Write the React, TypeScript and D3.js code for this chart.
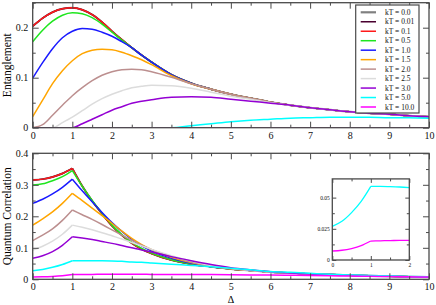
import React, { useEffect, useRef } from 'react';
import * as d3 from 'd3';

// Delta grid shared by every series
const deltas = [0, 0.25, 0.5, 0.75, 1, 1.25, 1.5, 1.75, 2, 2.25, 2.5, 2.75, 3, 3.5, 4, 4.5, 5, 5.5, 6, 6.5, 7, 7.5, 8, 8.5, 9, 9.5, 10];

const kTLabels = ['kT = 0.0', 'kT = 0.01', 'kT = 0.1', 'kT = 0.5', 'kT = 1.0', 'kT = 1.5', 'kT = 2.0', 'kT = 2.5', 'kT = 3.0', 'kT = 5.0', 'kT = 10.0'];
const kTColors = ['#808080', '#4a0030', '#ff1a1a', '#1ee61e', '#1a1aff', '#ffa500', '#bc8f8f', '#dcdcdc', '#9400d3', '#00ffff', '#ff00ff'];

// Entanglement (top panel)
const ent00 = [0.203, 0.219, 0.231, 0.238, 0.240, 0.236, 0.226, 0.211, 0.193, 0.176, 0.160, 0.145, 0.131, 0.106, 0.089, 0.077, 0.067, 0.059, 0.051, 0.045, 0.040, 0.036, 0.032, 0.029, 0.027, 0.024, 0.022];
const ent001 = [0.203, 0.219, 0.231, 0.238, 0.240, 0.236, 0.226, 0.211, 0.193, 0.176, 0.160, 0.145, 0.131, 0.106, 0.089, 0.077, 0.067, 0.059, 0.051, 0.045, 0.040, 0.036, 0.032, 0.029, 0.027, 0.024, 0.022];
const ent01 = [0.203, 0.219, 0.231, 0.238, 0.240, 0.236, 0.226, 0.211, 0.193, 0.176, 0.160, 0.145, 0.131, 0.106, 0.089, 0.077, 0.067, 0.059, 0.051, 0.045, 0.040, 0.036, 0.032, 0.029, 0.027, 0.024, 0.022];
const ent05 = [0.172, 0.195, 0.213, 0.225, 0.230, 0.228, 0.220, 0.207, 0.191, 0.175, 0.160, 0.145, 0.131, 0.106, 0.089, 0.077, 0.067, 0.059, 0.051, 0.045, 0.040, 0.036, 0.032, 0.029, 0.027, 0.024, 0.022];
const ent10 = [0.099, 0.130, 0.158, 0.180, 0.193, 0.1985, 0.197, 0.191, 0.183, 0.172, 0.160, 0.145, 0.131, 0.106, 0.089, 0.077, 0.067, 0.059, 0.051, 0.045, 0.040, 0.036, 0.032, 0.029, 0.027, 0.024, 0.022];
const ent15 = [0.022, 0.055, 0.088, 0.114, 0.134, 0.148, 0.155, 0.157, 0.156, 0.151, 0.144, 0.136, 0.126, 0.104, 0.088, 0.077, 0.067, 0.059, 0.051, 0.045, 0.040, 0.036, 0.032, 0.029, 0.027, 0.024, 0.022];
const ent20 = [0, 0.006, 0.025, 0.045, 0.064, 0.080, 0.094, 0.105, 0.112, 0.116, 0.117, 0.116, 0.112, 0.101, 0.088, 0.077, 0.067, 0.059, 0.051, 0.045, 0.040, 0.036, 0.032, 0.029, 0.027, 0.024, 0.022];
const ent25 = [0, 0, 0, 0.010, 0.021, 0.034, 0.047, 0.058, 0.067, 0.074, 0.080, 0.083, 0.085, 0.084, 0.079, 0.071, 0.063, 0.057, 0.050, 0.045, 0.040, 0.036, 0.032, 0.029, 0.027, 0.024, 0.022];
const ent30 = [0, 0, 0, 0, 0, 0.008, 0.017, 0.026, 0.035, 0.042, 0.049, 0.053, 0.056, 0.061, 0.062, 0.061, 0.057, 0.053, 0.049, 0.045, 0.040, 0.036, 0.032, 0.029, 0.027, 0.024, 0.022];
const ent50 = [0, 0, 0, 0, 0, 0, 0, 0, 0, 0, 0, 0, 0, 0, 0.004, 0.008, 0.012, 0.015, 0.017, 0.019, 0.020, 0.021, 0.021, 0.021, 0.020, 0.020, 0.019];
const ent100 = [0, 0, 0, 0, 0, 0, 0, 0, 0, 0, 0, 0, 0, 0, 0, 0, 0, 0, 0, 0, 0, 0, 0, 0, 0, 0, 0];

// Quantum correlation (bottom panel)
const qc00 = [0.315, 0.318, 0.325, 0.336, 0.352, 0.296, 0.249, 0.208, 0.170, 0.140, 0.115, 0.096, 0.082, 0.061, 0.048, 0.040, 0.033, 0.028, 0.023, 0.020, 0.017, 0.015, 0.013, 0.011, 0.010, 0.008, 0.007];
const qc001 = [0.315, 0.318, 0.325, 0.336, 0.352, 0.296, 0.249, 0.208, 0.170, 0.140, 0.115, 0.096, 0.082, 0.061, 0.048, 0.040, 0.033, 0.028, 0.023, 0.020, 0.017, 0.015, 0.013, 0.011, 0.010, 0.008, 0.007];
const qc01 = [0.315, 0.318, 0.325, 0.336, 0.352, 0.296, 0.249, 0.208, 0.170, 0.140, 0.115, 0.096, 0.082, 0.061, 0.048, 0.040, 0.033, 0.028, 0.023, 0.020, 0.017, 0.015, 0.013, 0.011, 0.010, 0.008, 0.007];
const qc05 = [0.299, 0.303, 0.313, 0.326, 0.345, 0.295, 0.250, 0.210, 0.172, 0.142, 0.117, 0.098, 0.083, 0.062, 0.049, 0.040, 0.033, 0.028, 0.023, 0.020, 0.017, 0.015, 0.013, 0.011, 0.010, 0.008, 0.007];
const qc10 = [0.241, 0.254, 0.271, 0.292, 0.318, 0.281, 0.246, 0.212, 0.180, 0.152, 0.127, 0.106, 0.090, 0.067, 0.051, 0.040, 0.033, 0.028, 0.023, 0.020, 0.017, 0.015, 0.013, 0.011, 0.010, 0.008, 0.007];
const qc15 = [0.172, 0.192, 0.214, 0.241, 0.273, 0.250, 0.226, 0.202, 0.178, 0.153, 0.130, 0.110, 0.094, 0.070, 0.053, 0.041, 0.033, 0.028, 0.023, 0.020, 0.017, 0.015, 0.013, 0.011, 0.010, 0.008, 0.007];
const qc20 = [0.123, 0.140, 0.160, 0.187, 0.220, 0.205, 0.190, 0.174, 0.157, 0.140, 0.124, 0.108, 0.094, 0.072, 0.055, 0.042, 0.034, 0.028, 0.023, 0.020, 0.017, 0.015, 0.013, 0.011, 0.010, 0.008, 0.007];
const qc25 = [0.093, 0.105, 0.121, 0.143, 0.172, 0.165, 0.157, 0.148, 0.138, 0.128, 0.117, 0.106, 0.095, 0.075, 0.058, 0.044, 0.035, 0.028, 0.023, 0.020, 0.017, 0.015, 0.013, 0.011, 0.010, 0.008, 0.007];
const qc30 = [0.067, 0.075, 0.088, 0.108, 0.135, 0.131, 0.126, 0.120, 0.114, 0.107, 0.100, 0.093, 0.087, 0.072, 0.059, 0.047, 0.037, 0.030, 0.024, 0.020, 0.017, 0.015, 0.013, 0.011, 0.010, 0.008, 0.007];
const qc50 = [0.027, 0.031, 0.038, 0.047, 0.059, 0.059, 0.0588, 0.0585, 0.058, 0.057, 0.055, 0.054, 0.052, 0.048, 0.044, 0.040, 0.035, 0.030, 0.025, 0.022, 0.019, 0.016, 0.014, 0.012, 0.011, 0.009, 0.008];
const qc100 = [0.0072, 0.0078, 0.0092, 0.0115, 0.0152, 0.0154, 0.0156, 0.0157, 0.0158, 0.0158, 0.0158, 0.0157, 0.0156, 0.0154, 0.0152, 0.0149, 0.0145, 0.0140, 0.0134, 0.0127, 0.0120, 0.0112, 0.0103, 0.0095, 0.0086, 0.0078, 0.0070];

const entSeries = [ent00, ent001, ent01, ent05, ent10, ent15, ent20, ent25, ent30, ent50, ent100];
const qcSeries = [qc00, qc001, qc01, qc05, qc10, qc15, qc20, qc25, qc30, qc50, qc100];

const xTicks = [0, 1, 2, 3, 4, 5, 6, 7, 8, 9, 10];
const entTicks = [0, 0.1, 0.2];
const qcTicks = [0, 0.1, 0.2, 0.3, 0.4];
const insetXTicks = [0, 1, 2];
const insetYTicks = [0, 0.025, 0.05];

const FRAME = '#4a4a4a';
const SERIF = '"Liberation Serif", "DejaVu Serif", serif';

export default function App() {
  const ref = useRef<SVGSVGElement>(null);

  useEffect(() => {
    const svg = d3.select(ref.current);
    svg.selectAll('*').remove();

    const x = d3.scaleLinear().domain([0, 10]).range([32.7, 429]);
    const yTop = d3.scaleLinear().domain([0, 0.25]).range([127.7, 2.7]);
    const yBot = d3.scaleLinear().domain([0, 0.4]).range([279.3, 153.3]);
    const xIn = d3.scaleLinear().domain([0, 2]).range([332.3, 409.3]);
    const yIn = d3.scaleLinear().domain([0, 0.065]).range([260, 178.9]);

    // ticks pointing inward on all four sides
    const axes = (xs, ys, xMaj, xMin, yMaj, yMin, big, small, fs, xPad, yPad) => {
      const [b, t] = ys.range();
      const [l, r] = xs.range();
      const style = (g) => {
        g.select('.domain').remove();
        g.selectAll('line').attr('stroke', FRAME).attr('stroke-width', 1);
        g.attr('font-family', SERIF).attr('font-size', fs).selectAll('text').attr('fill', '#111');
      };
      const fmt = (d) => String(d);
      const none = () => '';
      svg.append('g').attr('transform', `translate(0,${b})`)
        .call(d3.axisBottom(xs).tickValues(xMaj).tickSize(-big).tickPadding(xPad).tickFormat(fmt)).call(style);
      svg.append('g').attr('transform', `translate(0,${b})`)
        .call(d3.axisBottom(xs).tickValues(xMin).tickSize(-small).tickFormat(none)).call(style);
      svg.append('g').attr('transform', `translate(0,${t})`)
        .call(d3.axisTop(xs).tickValues(xMaj).tickSize(-big).tickFormat(none)).call(style);
      svg.append('g').attr('transform', `translate(0,${t})`)
        .call(d3.axisTop(xs).tickValues(xMin).tickSize(-small).tickFormat(none)).call(style);
      svg.append('g').attr('transform', `translate(${l},0)`)
        .call(d3.axisLeft(ys).tickValues(yMaj).tickSize(-big).tickPadding(yPad).tickFormat(fmt)).call(style);
      svg.append('g').attr('transform', `translate(${l},0)`)
        .call(d3.axisLeft(ys).tickValues(yMin).tickSize(-small).tickFormat(none)).call(style);
      svg.append('g').attr('transform', `translate(${r},0)`)
        .call(d3.axisRight(ys).tickValues(yMaj).tickSize(-big).tickFormat(none)).call(style);
      svg.append('g').attr('transform', `translate(${r},0)`)
        .call(d3.axisRight(ys).tickValues(yMin).tickSize(-small).tickFormat(none)).call(style);
      svg.append('rect').attr('x', l).attr('y', t).attr('width', r - l).attr('height', b - t)
        .attr('fill', 'none').attr('stroke', FRAME).attr('stroke-width', 1.3);
    };

    const clip = (id, xs, ys) => {
      const [b, t] = ys.range();
      const [l, r] = xs.range();
      svg.append('clipPath').attr('id', id).append('rect')
        .attr('x', l).attr('y', t).attr('width', r - l).attr('height', b - t);
    };

    const xMinor = d3.range(0.5, 10, 1);

    // ---------- top panel: entanglement ----------
    clip('clipTop', x, yTop);
    const lineTop = d3.line().x((d) => x(d[0])).y((d) => yTop(d[1])).curve(d3.curveMonotoneX);
    const gTop = svg.append('g').attr('clip-path', 'url(#clipTop)');
    entSeries.forEach((s, i) => {
      gTop.append('path')
        .attr('d', lineTop(deltas.map((d, j) => [d, s[j]])))
        .attr('fill', 'none').attr('stroke', kTColors[i]).attr('stroke-width', i === 0 ? 2 : 1.5);
    });
    axes(x, yTop, xTicks, xMinor, entTicks, [0.05, 0.15, 0.25], 6, 3, 10, 4.5, 4.5);

    // ---------- bottom panel: quantum correlation ----------
    clip('clipBot', x, yBot);
    const lineBot = d3.line().x((d) => x(d[0])).y((d) => yBot(d[1])).curve(d3.curveMonotoneX);
    const gBot = svg.append('g').attr('clip-path', 'url(#clipBot)');
    qcSeries.forEach((s, i) => {
      const pts = deltas.map((d, j) => [d, s[j]]);
      const k = deltas.indexOf(1);
      [pts.slice(0, k + 1), pts.slice(k)].forEach((seg) => {
        gBot.append('path')
          .attr('d', lineBot(seg))
          .attr('fill', 'none').attr('stroke', kTColors[i]).attr('stroke-width', i === 0 ? 2 : 1.5);
      });
    });
    axes(x, yBot, xTicks, xMinor, qcTicks, [0.05, 0.15, 0.25, 0.35], 6, 3, 10, 3.5, 4.5);

    // ---------- inset ----------
    svg.append('rect').attr('x', xIn(0)).attr('y', yIn(0.065)).attr('width', xIn(2) - xIn(0))
      .attr('height', yIn(0) - yIn(0.065)).attr('fill', '#fff');
    clip('clipIn', xIn, yIn);
    const lineIn = d3.line().x((d) => xIn(d[0])).y((d) => yIn(d[1])).curve(d3.curveMonotoneX);
    const gIn = svg.append('g').attr('clip-path', 'url(#clipIn)');
    [9, 10].forEach((i) => {
      const pts = deltas.map((d, j) => [d, qcSeries[i][j]]).filter((p) => p[0] <= 2);
      const k = deltas.indexOf(1);
      [pts.slice(0, k + 1), pts.slice(k)].forEach((seg) => {
        gIn.append('path').attr('d', lineIn(seg))
          .attr('fill', 'none').attr('stroke', kTColors[i]).attr('stroke-width', 1.3);
      });
    });
    axes(xIn, yIn, insetXTicks, [0.5, 1.5], insetYTicks, [0.0125, 0.0375], 4, 2.5, 5.5, 3, 2.5);

    // ---------- axis titles ----------
    svg.append('text').attr('transform', `translate(11,${(yTop(0) + yTop(0.25)) / 2}) rotate(-90)`)
      .attr('text-anchor', 'middle').attr('font-family', SERIF).attr('font-size', 11.5).text('Entanglement');
    svg.append('text').attr('transform', `translate(11,${(yBot(0) + yBot(0.4)) / 2}) rotate(-90)`)
      .attr('text-anchor', 'middle').attr('font-family', SERIF).attr('font-size', 11.5).text('Quantum Correlation');
    svg.append('text').attr('x', x(5)).attr('y', 303)
      .attr('text-anchor', 'middle').attr('font-family', SERIF).attr('font-size', 10).text('Δ');

    // ---------- legend ----------
    const lg = svg.append('g');
    lg.append('rect').attr('x', 355.7).attr('y', 5).attr('width', 63.3).attr('height', 108)
      .attr('fill', '#fff').attr('stroke', FRAME).attr('stroke-width', 1.2);
    kTLabels.forEach((lab, i) => {
      const yy = 12.3 + i * 9.47;
      lg.append('line').attr('x1', 360.7).attr('x2', 376).attr('y1', yy).attr('y2', yy)
        .attr('stroke', kTColors[i]).attr('stroke-width', i === 0 ? 2.2 : 1.5);
      lg.append('text').attr('x', 385).attr('y', yy + 2.6)
        .attr('font-family', SERIF).attr('font-size', 7.5).attr('fill', '#111').text(lab);
    });
  }, []);

  return (
    <svg ref={ref} width={436} height={305}
      style={{ position: 'absolute', left: 0, top: 0, background: '#fff' }} />
  );
}
